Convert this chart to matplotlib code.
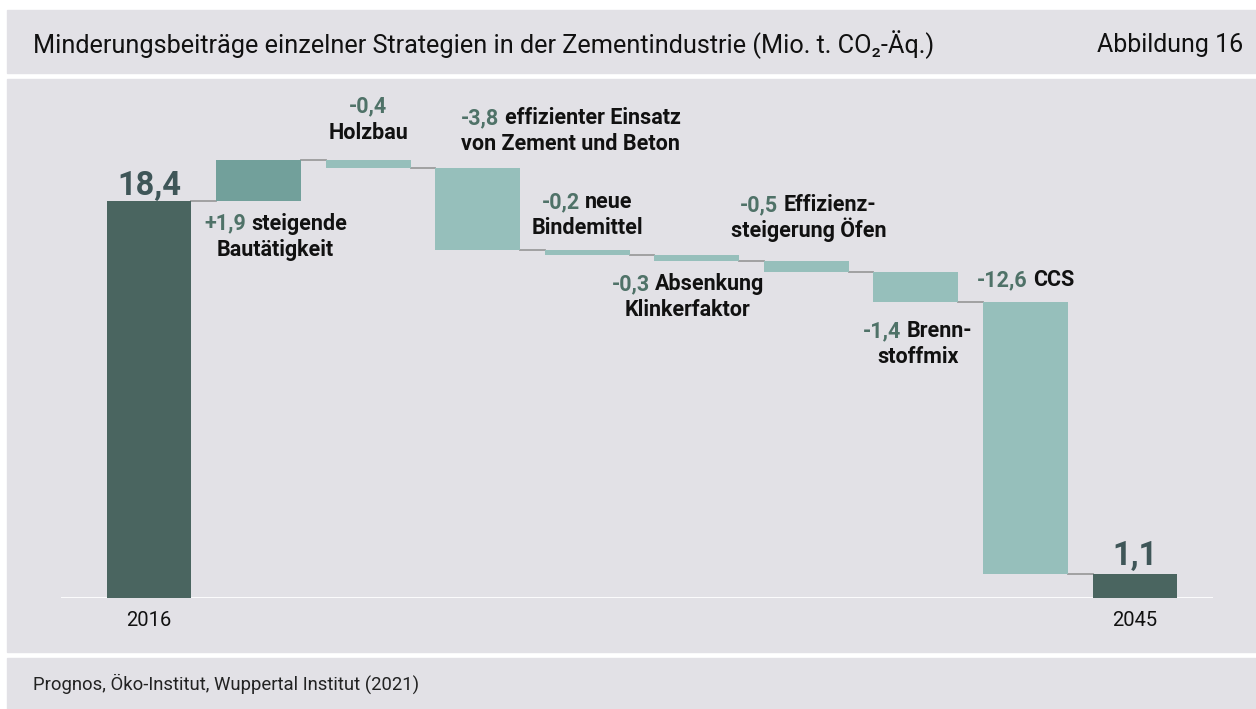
import matplotlib.pyplot as plt
from matplotlib.patches import Rectangle

# Data (Mio. t CO2-Äq.)
start_label = '2016'
end_label = '2045'
start_value = 18.4
end_value = 1.1
step_values = [1.9, -0.4, -3.8, -0.2, -0.3, -0.5, -1.4, -12.6]
step_line1 = ['steigende', '', 'effizienter Einsatz', 'neue', 'Absenkung',
              'Effizienz-', 'Brenn-', 'CCS']
step_line2 = ['Bautätigkeit', 'Holzbau', 'von Zement und Beton', 'Bindemittel',
              'Klinkerfaktor', 'steigerung Öfen', 'stoffmix', '']

title = 'Minderungsbeiträge einzelner Strategien in der Zementindustrie (Mio. t. CO₂-Äq.)'
fig_no = 'Abbildung 16'
source = 'Prognos, Öko-Institut, Wuppertal Institut (2021)'

# label placement per step: side, gap in px, horizontal shift in px
label_side = ['below', 'above', 'above', 'above', 'below', 'above', 'below', 'above']
label_gap = [29, 21, 18, 16, 29, 24, 35, 16]
label_dx = [17, 0, 93, 0, -9, 2, 2, 0]

# colours
panel = '#e2e1e6'
c_total = '#4a6560'
c_up = '#72a09b'
c_down = '#96bfbb'
c_num = '#4f7268'
c_big = '#3f5658'
c_conn = '#9c9c9c'

plt.rcParams['font.family'] = ['Roboto', 'DejaVu Sans']

W, H = 1256, 709
fig = plt.figure(figsize=(W / 100, H / 100), dpi=100, facecolor='white')

# background panels (figure pixel coordinates)
def panel_rect(y0, y1):
    fig.patches.append(Rectangle((7 / W, 1 - y1 / H), (W - 7) / W, (y1 - y0) / H,
                                 transform=fig.transFigure, color=panel, zorder=-5))

panel_rect(10, 73)
panel_rect(79, 652)
panel_rect(658, 709)

fig.text(33 / W, 1 - 45 / H, title, fontsize=18.2, va='center', ha='left', color='#111111')
fig.text(1243 / W, 1 - 45 / H, fig_no, fontsize=18, va='center', ha='right', color='#111111')
fig.text(33 / W, 1 - 684 / H, source, fontsize=13.3, va='center', ha='left', color='#222222')

# chart axes
base_px, top_px = 598, 100
ax = fig.add_axes([61 / W, 1 - base_px / H, (1213 - 61) / W, (base_px - top_px) / H])
ax.patch.set_alpha(0)
for s in ax.spines.values():
    s.set_visible(False)
ax.set_xticks([])
ax.set_yticks([])
ax.set_xlim(-0.803, 9.712)
ax.set_ylim(0, (base_px - top_px) / 21.6)

bw = 0.775
n = len(step_values)
xs_steps = list(range(1, n + 1))
x_end = n + 1

ax.axhline(0, color='white', lw=2, zorder=1)

# total bars
ax.bar(0, start_value, width=bw, color=c_total, zorder=3)
ax.bar(x_end, end_value, width=bw, color=c_total, zorder=3)

# step bars
levels = [start_value]
for v in step_values:
    levels.append(levels[-1] + v)
for i, v in enumerate(step_values):
    bottom = min(levels[i], levels[i + 1])
    ax.bar(xs_steps[i], abs(v), bottom=bottom, width=bw,
           color=c_up if v > 0 else c_down, zorder=3)

# connectors
for i in range(n + 1):
    lvl = levels[i] if i < n else end_value
    ax.plot([i + bw / 2, i + 1 - bw / 2], [lvl, lvl], color=c_conn, lw=1.3, zorder=2)

renderer = fig.canvas.get_renderer()

def width_of(s, **kw):
    t = fig.text(0, 0, s, **kw)
    w = t.get_window_extent(renderer).width
    t.remove()
    return w

fs = 15.5
bold = dict(fontsize=fs, fontweight='bold')
space = width_of('a a', **bold) - width_of('aa', **bold)

def put(x, y, dx, dy, s, color, ha='center', **kw):
    ax.annotate(s, xy=(x, y), xycoords='data', xytext=(dx, dy),
                textcoords='offset pixels', ha=ha, va='baseline', color=color,
                annotation_clip=False, **kw)

line_step = 26
for i, v in enumerate(step_values):
    x = xs_steps[i]
    num = f'{v:+.1f}'.replace('.', ',')
    l1, l2 = step_line1[i], step_line2[i]
    if label_side[i] == 'above':
        y = max(levels[i], levels[i + 1])
        if l2:
            dy1, dy2 = label_gap[i] + line_step, label_gap[i]
        else:
            dy1, dy2 = label_gap[i], None
    else:
        y = min(levels[i], levels[i + 1])
        dy1, dy2 = -label_gap[i], -label_gap[i] - line_step
    dx = label_dx[i]
    # first line: coloured number + black words
    if l1:
        wn = width_of(num, **bold)
        ww = width_of(l1, **bold)
        total = wn + space + ww
        x0 = dx - total / 2
        put(x, y, x0, dy1, num, c_num, ha='left', **bold)
        put(x, y, x0 + wn + space, dy1, l1, '#111111', ha='left', **bold)
    else:
        put(x, y, dx, dy1, num, c_num, **bold)
    if l2:
        put(x, y, dx, dy2, l2, '#111111', **bold)

# totals
big = dict(fontsize=23.5, fontweight='bold')
put(0, start_value, 0, 6, f'{start_value:.1f}'.replace('.', ','), c_big, **big)
put(x_end, end_value, 0, 9, f'{end_value:.1f}'.replace('.', ','), c_big, **big)

# category labels
for x, lab in [(0, start_label), (x_end, end_label)]:
    ax.annotate(lab, xy=(x, 0), xycoords='data', xytext=(0, -22),
                textcoords='offset pixels', ha='center', va='center',
                fontsize=14.5, color='#111111', annotation_clip=False)

fig.savefig('out.png', dpi=100, facecolor='white')
